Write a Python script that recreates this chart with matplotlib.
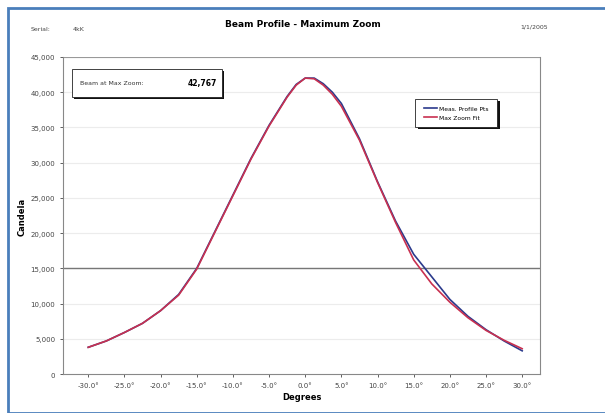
import numpy as np
import matplotlib.pyplot as plt
from matplotlib.patches import Rectangle

# angles in degrees
angles = [-30, -27.5, -25, -22.5, -20, -17.5, -15, -12.5, -10, -7.5, -5, -2.5, -1.25,
          0, 1.25, 2.5, 3.75, 5, 7.5, 10, 12.5, 15, 17.5, 20, 22.5, 25, 27.5, 30]
meas_cd = [3800, 4700, 5900, 7200, 9000, 11300, 15000, 20200, 25400, 30600, 35300, 39400, 41100,
           42000, 42000, 41200, 40000, 38400, 33400, 27300, 21700, 17000, 13800, 10600, 8200, 6300, 4700, 3300]
fit_cd = [3800, 4700, 5900, 7200, 9000, 11200, 14900, 20100, 25300, 30500, 35200, 39300, 41000,
          42000, 41900, 41000, 39700, 38000, 33200, 27200, 21500, 16200, 12800, 10200, 8000, 6200, 4800, 3600]

tick_angles = [-30, -25, -20, -15, -10, -5, 0, 5, 10, 15, 20, 25, 30]
tick_labels = ["-30.0°", "-25.0°", "-20.0°", "-15.0°", "-10.0°", "-5.0°", "0.0°",
               "5.0°", "10.0°", "15.0°", "20.0°", "25.0°", "30.0°"]
y_ticks = list(range(0, 45001, 5000))

fig = plt.figure(figsize=(6.05, 4.14), dpi=100)
fig.patches.append(Rectangle((0.013, 0.0), 0.99, 0.978, transform=fig.transFigure,
                             fill=False, edgecolor="#4a7ebb", linewidth=2))

ax = fig.add_axes([0.104, 0.094, 0.789, 0.766])
l1, = ax.plot(angles, meas_cd, color="#2b3a8c", linewidth=1.2, label="Meas. Profile Pts")
l2, = ax.plot(angles, fit_cd, color="#c83050", linewidth=1.2, label="Max Zoom Fit")

ax.set_xlim(-33.5, 32.5)
ax.set_ylim(0, 45000)
ax.set_xticks(tick_angles)
ax.set_xticklabels(tick_labels, fontsize=5)
ax.set_yticks(y_ticks)
ax.set_yticklabels([f"{v:,}" for v in y_ticks], fontsize=5)
ax.tick_params(length=2, width=0.6, colors="#444444")

for v in y_ticks[1:]:
    ax.axhline(v, color="#ececec", linewidth=0.8, zorder=0)
ax.axhline(15000, color="#777777", linewidth=1.0, zorder=0)
ax.axhline(45000, color="#999999", linewidth=0.8, zorder=0)

ax.spines["top"].set_visible(False)
for side in ["left", "bottom", "right"]:
    ax.spines[side].set_color("#888888")
    ax.spines[side].set_linewidth(0.8)

ax.set_xlabel("Degrees", fontsize=6, fontweight="bold", labelpad=3)
ax.set_ylabel("Candela", fontsize=6, fontweight="bold", labelpad=3)


def shadow_box(x0, y0, w, h):
    # Excel style box with black drop shadow
    ax.add_patch(Rectangle((x0 + 0.005, y0 - 0.007), w, h, transform=ax.transAxes,
                           facecolor="#111111", edgecolor="none", zorder=5))
    ax.add_patch(Rectangle((x0, y0), w, h, transform=ax.transAxes,
                           facecolor="white", edgecolor="#222222", linewidth=0.6, zorder=6))


# peak value box
shadow_box(0.019, 0.874, 0.314, 0.088)
ax.text(0.035, 0.918, "Beam at Max Zoom:", transform=ax.transAxes, fontsize=4.5,
        va="center", color="#333333", zorder=7)
ax.text(0.322, 0.918, "42,767", transform=ax.transAxes, fontsize=5.5,
        va="center", ha="right", fontweight="bold", zorder=7)

# legend box
shadow_box(0.738, 0.779, 0.172, 0.089)
leg = ax.legend(handles=[l1, l2], loc="center", bbox_to_anchor=(0.824, 0.8235), fontsize=4.3,
                frameon=False, handlelength=2.2, handletextpad=0.4, labelspacing=0.7,
                borderpad=0.2)
leg.set_zorder(8)

fig.text(0.5, 0.935, "Beam Profile - Maximum Zoom", ha="center", fontsize=6.5, fontweight="bold")
fig.text(0.05, 0.925, "Serial:", fontsize=4.5, color="#444444")
fig.text(0.12, 0.925, "4kK", fontsize=4.5, color="#444444")
fig.text(0.86, 0.93, "1/1/2005", fontsize=4.5, color="#444444")

fig.savefig("out.png", dpi=100)
